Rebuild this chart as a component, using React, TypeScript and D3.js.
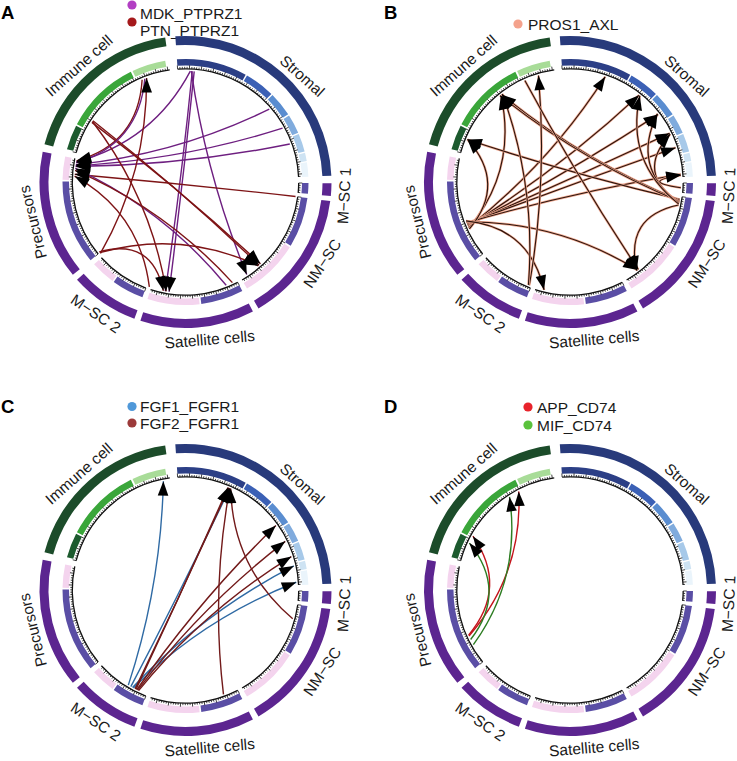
import React from "react";
import * as d3 from "d3";

// ---------- DATA ----------
const sectorNames = ["Stromal", "M−SC 1", "NM−SC", "Satellite cells", "M−SC 2", "Precursors", "Immune cell"];
const sectorStartDeg = [-4, 90.5, 97.5, 152.5, 200.5, 230.5, 285];
const sectorEndDeg = [87.5, 95.5, 150, 198, 228, 282, 352];
const sectorColors = ["#283a7b", "#5c2590", "#5c2590", "#5c2590", "#5c2590", "#5c2590", "#1c4c2a"];

// sub-cluster band track
const bandStartDeg = [-4, 30, 45, 57.3, 67, 76.3, 80.8, 90.5, 97.5, 122, 152.5, 173.4, 200.5, 216.4, 230.5, 271, 285.5, 298, 334.5];
const bandEndDeg = [29.3, 44.3, 56.6, 66.4, 75.6, 80.2, 87.5, 95.5, 121.2, 150, 172.6, 198, 215.7, 228, 270.2, 282, 297.2, 333.6, 350.5];
const bandColors = [
  "#2c3f86", "#3b60b5", "#5a8dd0", "#80abdd", "#a7c9e9", "#cee3f3", "#eaf4fb",
  "#5a4ea5",
  "#5a4ea5", "#f4d4ee",
  "#5a4ea5", "#f4d4ee",
  "#5a4ea5", "#f4d4ee",
  "#5a4ea5", "#f4d4ee",
  "#1c5a2e", "#3aa63a", "#a8dc98",
];

// legends
const legendA = ["MDK_PTPRZ1", "PTN_PTPRZ1"];
const legendB = ["PROS1_AXL"];
const legendC = ["FGF1_FGFR1", "FGF2_FGFR1"];
const legendD = ["APP_CD74", "MIF_CD74"];
const legendColorsA = ["#b23fc3", "#a5191b"];
const legendColorsB = ["#f4a28c"];
const legendColorsC = ["#4f98d9", "#9c3a3a"];
const legendColorsD = ["#e8232b", "#5ac23c"];
const lineColorsA = ["#6e1f80", "#7e1416"];
const lineColorsB = ["#2a140c"];
const lineColorsC = ["#2f6aa4", "#721a1a"];
const lineColorsD = ["#c4141c", "#2d7d22"];

// links: [from angle, to angle, series]
const linksA: [number, number, number][] = [
  [3.5, 190.5, 0], [4.5, 188.5, 0], [3.0, 146.5, 0], [2.5, 280.5, 0],
  [49, 279, 0], [61, 278.5, 0], [70, 278, 0],
  [97.5, 274, 1], [158.5, 277, 0], [155, 276, 1],
  [302.5, 137.5, 1], [303.5, 138.5, 1], [303, 190, 1],
  [337, 281, 1], [338.5, 280, 0],
  [230, 339.5, 1], [230.5, 139, 1], [231, 191.5, 1], [199, 273, 1],
];
const linksB: [number, number, number][] = [
  [246, 18.5, 0], [246.5, 38.5, 0], [247, 52.5, 0], [247.5, 64, 0], [248, 72, 0], [248.5, 86, 0],
  [245.5, 321.5, 0], [245, 292.5, 0], [249, 142.5, 0], [249.5, 193.5, 0],
  [99, 292.5, 0], [99.5, 322, 0], [100, 321, 0], [100.5, 64.5, 0], [101, 52, 0], [101.5, 39, 0], [102, 143, 0],
  [93, 86.5, 0], [201.5, 343.5, 0], [202, 322.5, 0], [336, 142, 0],
];
const linksC: [number, number, number][] = [
  [211, 348.5, 0], [209.5, 23.5, 0], [208.5, 77.5, 0], [208, 86, 0],
  [207, 23, 1], [206.5, 22.5, 1], [206, 54.5, 1], [205.5, 64, 1], [205, 72.5, 1], [160, 23.5, 1], [105, 24, 1],
];
const linksD: [number, number, number][] = [
  [245.5, 332.5, 0], [246, 299, 0], [243.5, 295, 1], [240.5, 327, 1],
];

// ---------- LAYOUT / STYLE ----------
const W = 737, H = 761;
const FONT = "'Liberation Sans', Arial, Helvetica, sans-serif";
const R_OUT0 = 137, R_OUT1 = 146;
const R_BAND0 = 116.5, R_BAND1 = 123;
const R_AXIS = 113.2;
const R_LINK = 111;
const labelShift = [6, 2, -3, -4, 0, -1, -1];

type Panel = {
  letter: string; lx: number; ly: number; cx: number; cy: number;
  legend: string[]; legendColors: string[]; lineColors: string[];
  links: [number, number, number][];
  dotX: number; textX: number; rowY: number[]; dotDy: number; halo?: string;
};

const panels: Panel[] = [
  { letter: "A", lx: 1, ly: 18.5, cx: 185.5, cy: 182, legend: legendA, legendColors: legendColorsA, lineColors: lineColorsA, links: linksA, dotX: 132, textX: 140, rowY: [13, 30], dotDy: -8 },
  { letter: "B", lx: 384, ly: 18.5, cx: 570, cy: 182, legend: legendB, legendColors: legendColorsB, lineColors: lineColorsB, links: linksB, dotX: 518, textX: 528, rowY: [24], dotDy: 0, halo: "#f0a890" },
  { letter: "C", lx: 1, ly: 413, cx: 185.5, cy: 590, legend: legendC, legendColors: legendColorsC, lineColors: lineColorsC, links: linksC, dotX: 132, textX: 140, rowY: [406.5, 423], dotDy: 0 },
  { letter: "D", lx: 384, ly: 413, cx: 570, cy: 590, legend: legendD, legendColors: legendColorsD, lineColors: lineColorsD, links: linksD, dotX: 528, textX: 537, rowY: [407, 425], dotDy: 0 },
];

const rad = d3.scaleLinear().domain([0, 360]).range([0, 2 * Math.PI]);
const pt = (deg: number, r: number): [number, number] => [r * Math.sin(rad(deg)), -r * Math.cos(rad(deg))];

function ringArc(a0: number, a1: number, r0: number, r1: number) {
  return d3.arc()({ startAngle: rad(a0), endAngle: rad(a1), innerRadius: r0, outerRadius: r1 } as any) || "";
}

function linkGeom(a0: number, a1: number) {
  let d = (((a1 - a0) % 360) + 360) % 360;
  let mid: number, dd: number;
  if (d > 180) { dd = 360 - d; mid = a0 - dd / 2; } else { dd = d; mid = a0 + d / 2; }
  const p0 = pt(a0, R_LINK), p2 = pt(a1, R_LINK);
  const q = pt(mid, R_LINK * Math.cos(rad(dd / 2)) * 0.62);
  const p = d3.path();
  p.moveTo(p0[0], p0[1]);
  p.quadraticCurveTo(q[0], q[1], p2[0], p2[1]);
  // arrowhead
  let dx = p2[0] - q[0], dy = p2[1] - q[1];
  const L = Math.hypot(dx, dy) || 1; dx /= L; dy /= L;
  const len = 14.5, hw = 5.3;
  const bx = p2[0] - dx * len, by = p2[1] - dy * len;
  const arrow = `M${p2[0]},${p2[1]}L${bx - dy * hw},${by + dx * hw}L${bx + dy * hw},${by - dx * hw}Z`;
  return { d: p.toString(), arrow };
}

function PanelView({ pn }: { pn: Panel }) {
  const ticks: JSX.Element[] = [];
  sectorNames.forEach((_, i) => {
    const a0 = sectorStartDeg[i], a1 = sectorEndDeg[i];
    const n = Math.floor((a1 - a0) / 1.2);
    for (let k = 0; k <= n; k++) {
      const a = a0 + k * 1.2;
      const major = k % 5 === 0;
      const p1 = pt(a, R_AXIS), p2 = pt(a, R_AXIS + (major ? 3.6 : 2));
      ticks.push(<line key={`t${i}-${k}`} x1={p1[0]} y1={p1[1]} x2={p2[0]} y2={p2[1]} stroke="#111" strokeWidth={0.8} />);
    }
  });
  return (
    <g>
      <text x={pn.lx} y={pn.ly} fontFamily={FONT} fontWeight={700} fontSize={18.5} fill="#000">{pn.letter}</text>
      {pn.legend.map((t, i) => (
        <g key={t}>
          <circle cx={pn.dotX} cy={pn.rowY[i] + pn.dotDy} r={4.6} fill={pn.legendColors[i]} />
          <text x={pn.textX} y={pn.rowY[i]} dy="0.36em" fontFamily={FONT} fontSize={15.5} fill="#1a1a1a">{t}</text>
        </g>
      ))}
      <g transform={`translate(${pn.cx},${pn.cy})`}>
        {sectorNames.map((s, i) => (
          <path key={s} d={ringArc(sectorStartDeg[i], sectorEndDeg[i], R_OUT0, R_OUT1)} fill={sectorColors[i]} />
        ))}
        {bandColors.map((c, i) => (
          <path key={`b${i}`} d={ringArc(bandStartDeg[i], bandEndDeg[i], R_BAND0, R_BAND1)} fill={c} />
        ))}
        {sectorNames.map((s, i) => (
          <path key={`ax${i}`} d={d3.arc()({ startAngle: rad(sectorStartDeg[i]), endAngle: rad(sectorEndDeg[i]), innerRadius: R_AXIS, outerRadius: R_AXIS } as any) || ""} fill="none" stroke="#111" strokeWidth={1.3} />
        ))}
        {ticks}
        {sectorNames.map((s, i) => {
          const mid = (sectorStartDeg[i] + sectorEndDeg[i]) / 2;
          const pos = mid + labelShift[i];
          const flip = pos > 90 && pos < 250;
          const r = flip ? 159 : 158;
          const p = pt(pos, r);
          const rot = flip ? mid - 180 : mid > 180 ? mid - 360 : mid;
          return (
            <text key={`l${s}`} x={0} y={0} transform={`translate(${p[0]},${p[1]}) rotate(${rot})`} textAnchor="middle" dy="0.36em" fontFamily={FONT} fontSize={15.5} fill="#1a1a1a">{s}</text>
          );
        })}
        {pn.links.map(([a, b, s], i) => {
          const g = linkGeom(a, b);
          return (
            <g key={`k${i}`}>
              {pn.halo && <path d={g.d} fill="none" stroke={pn.halo} strokeWidth={2.4} />}
              <path d={g.d} fill="none" stroke={pn.lineColors[s]} strokeWidth={pn.halo ? 1.1 : 1.4} />
            </g>
          );
        })}
        {pn.links.map(([a, b], i) => (
          <path key={`ar${i}`} d={linkGeom(a, b).arrow} fill="#000" />
        ))}
      </g>
    </g>
  );
}

export default function App() {
  return (
    <svg width={W} height={H} viewBox={`0 0 ${W} ${H}`} style={{ position: "absolute", left: 0, top: 0, background: "#fff" }}>
      <rect width={W} height={H} fill="#fff" />
      {panels.map((p) => <PanelView key={p.letter} pn={p} />)}
    </svg>
  );
}
